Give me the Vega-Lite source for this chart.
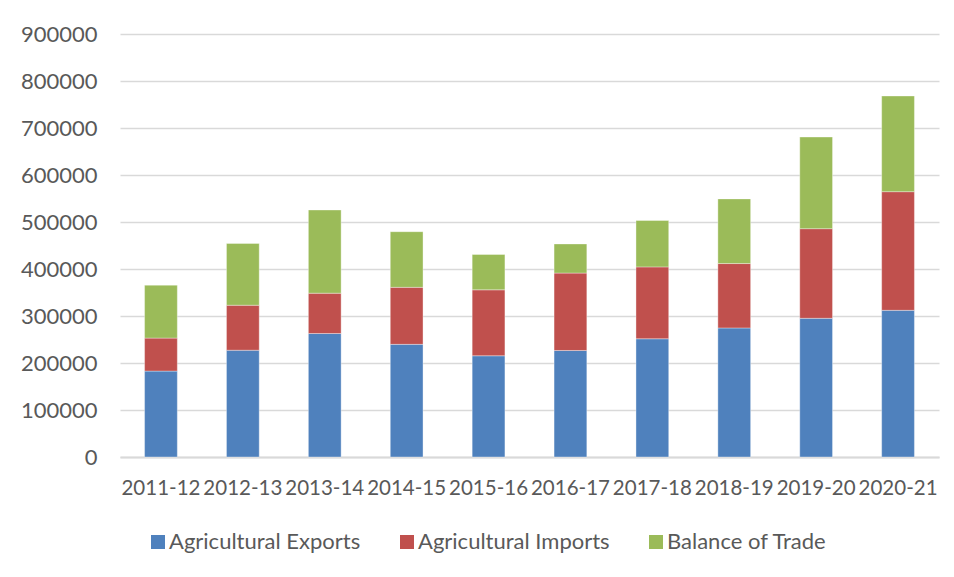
{
  "$schema": "https://vega.github.io/schema/vega-lite/v6.json",
  "width": 819,
  "height": 423,
  "autosize": {"type": "none"},
  "padding": {"left": 120, "top": 34, "right": 15, "bottom": 120},
  "background": "#ffffff",
  "config": {
    "font": "Lato",
    "view": {"stroke": null},
    "axis": {"labelFont": "Lato", "labelColor": "#595959", "title": null}
  },
  "data": {
    "values": [
      {"year": "2011-12", "series": "Agricultural Exports", "value": 182801},
      {"year": "2011-12", "series": "Agricultural Imports", "value": 70164},
      {"year": "2011-12", "series": "Balance of Trade", "value": 112637},
      {"year": "2012-13", "series": "Agricultural Exports", "value": 227193},
      {"year": "2012-13", "series": "Agricultural Imports", "value": 95719},
      {"year": "2012-13", "series": "Balance of Trade", "value": 131474},
      {"year": "2013-14", "series": "Agricultural Exports", "value": 262779},
      {"year": "2013-14", "series": "Agricultural Imports", "value": 85727},
      {"year": "2013-14", "series": "Balance of Trade", "value": 177052},
      {"year": "2014-15", "series": "Agricultural Exports", "value": 239681},
      {"year": "2014-15", "series": "Agricultural Imports", "value": 121319},
      {"year": "2014-15", "series": "Balance of Trade", "value": 118362},
      {"year": "2015-16", "series": "Agricultural Exports", "value": 215396},
      {"year": "2015-16", "series": "Agricultural Imports", "value": 140289},
      {"year": "2015-16", "series": "Balance of Trade", "value": 75107},
      {"year": "2016-17", "series": "Agricultural Exports", "value": 226652},
      {"year": "2016-17", "series": "Agricultural Imports", "value": 164667},
      {"year": "2016-17", "series": "Balance of Trade", "value": 61985},
      {"year": "2017-18", "series": "Agricultural Exports", "value": 251564},
      {"year": "2017-18", "series": "Agricultural Imports", "value": 152954},
      {"year": "2017-18", "series": "Balance of Trade", "value": 98610},
      {"year": "2018-19", "series": "Agricultural Exports", "value": 274571},
      {"year": "2018-19", "series": "Agricultural Imports", "value": 137014},
      {"year": "2018-19", "series": "Balance of Trade", "value": 137557},
      {"year": "2019-20", "series": "Agricultural Exports", "value": 295100},
      {"year": "2019-20", "series": "Agricultural Imports", "value": 190700},
      {"year": "2019-20", "series": "Balance of Trade", "value": 195000},
      {"year": "2020-21", "series": "Agricultural Exports", "value": 312100},
      {"year": "2020-21", "series": "Agricultural Imports", "value": 252400},
      {"year": "2020-21", "series": "Balance of Trade", "value": 203600}
    ]
  },
  "mark": {"type": "bar", "stroke": "#ffffff", "strokeWidth": 0.6, "strokeOpacity": 0.6},
  "encoding": {
    "x": {
      "field": "year",
      "type": "nominal",
      "sort": null,
      "scale": {"paddingInner": 0.6, "paddingOuter": 0.3},
      "axis": {
        "labelAngle": 0,
        "labelFontSize": 20.5,
        "ticks": false,
        "domain": true,
        "domainColor": "#d9d9d9",
        "domainWidth": 2,
        "labelPadding": 21,
        "grid": false
      }
    },
    "y": {
      "field": "value",
      "type": "quantitative",
      "stack": "zero",
      "scale": {"domain": [0, 900000], "nice": false},
      "axis": {
        "values": [0, 100000, 200000, 300000, 400000, 500000, 600000, 700000, 800000, 900000],
        "format": "d",
        "labelFontSize": 22,
        "domain": false,
        "ticks": false,
        "labelPadding": 23,
        "grid": true,
        "gridColor": "#d9d9d9",
        "gridWidth": 1.6
      }
    },
    "color": {
      "field": "series",
      "type": "nominal",
      "scale": {
        "domain": ["Agricultural Exports", "Agricultural Imports", "Balance of Trade"],
        "range": ["#4F81BD", "#C0504D", "#9BBB59"]
      },
      "legend": {
        "title": null,
        "orient": "none",
        "legendX": 27,
        "legendY": 497,
        "direction": "horizontal",
        "symbolType": "square",
        "symbolSize": 196,
        "symbolStrokeWidth": 0,
        "labelFont": "Lato",
        "labelFontSize": 22,
        "labelColor": "#595959",
        "labelLimit": 400,
        "labelOffset": 0,
        "columnPadding": 35
      }
    },
    "order": {"field": "series", "sort": "ascending"}
  }
}
